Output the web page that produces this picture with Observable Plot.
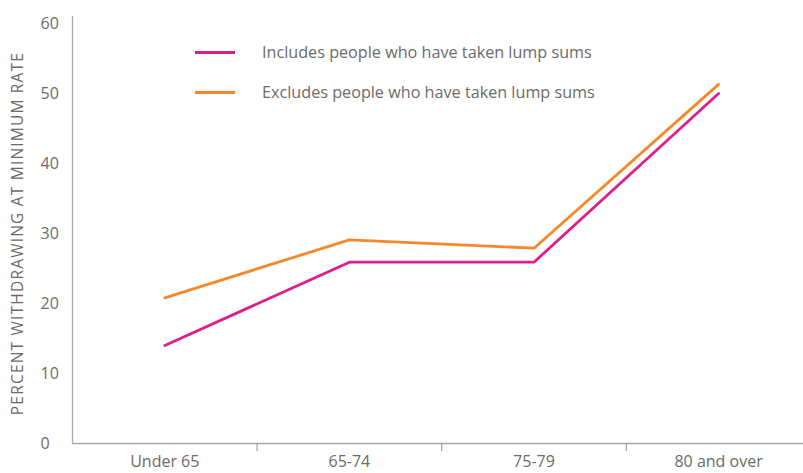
<!DOCTYPE html>
<html>
<head>
<meta charset="utf-8">
<script src="https://cdn.jsdelivr.net/npm/d3@7"></script>
<script src="https://cdn.jsdelivr.net/npm/@observablehq/plot@0.6"></script>
<style>
  html, body { margin: 0; padding: 0; background: #fff; }
  #wrap { position: relative; width: 803px; height: 473px; font-family: "Open Sans", sans-serif; }
  .legend { position: absolute; left: 0; top: 0; }
  .item { position: absolute; display: flex; align-items: center; white-space: nowrap; }
  .swatch { width: 40px; height: 3px; margin-right: 27px; }
  .label { font-size: 16.2px; color: #6b6b6b; }
  .ylab text { letter-spacing: 1.2px; }
</style>
</head>
<body>
<div id="wrap"></div>
<script>
const categories = ["Under 65", "65-74", "75-79", "80 and over"];
const includesLump = [14, 25.9, 25.9, 50];
const excludesLump = [20.8, 29.1, 27.9, 51.3];
const seriesNames = ["Includes people who have taken lump sums", "Excludes people who have taken lump sums"];
const seriesColors = ["#dc1f8c", "#f5882a"];
const yTicks = [0, 10, 20, 30, 40, 50, 60];
const yLabel = "PERCENT WITHDRAWING AT MINIMUM RATE";

const rows = [];
categories.forEach((c, i) => {
  rows.push({i, cat: c, series: seriesNames[0], value: includesLump[i]});
  rows.push({i, cat: c, series: seriesNames[1], value: excludesLump[i]});
});

const gray = "#a8a8a8";
const textGray = "#6b6b6b";

const chart = Plot.plot({
  width: 803,
  height: 473,
  marginLeft: 72,
  marginRight: 0,
  marginTop: 23,
  marginBottom: 30,
  style: {fontFamily: "Open Sans, sans-serif", fontSize: "16px", color: textGray, background: "#fff"},
  x: {type: "linear", domain: [-0.5, 3.46]},
  y: {domain: [0, 60]},
  color: {domain: seriesNames, range: seriesColors},
  marks: [
    Plot.ruleX([-0.5], {y1: 0, y2: 61, stroke: gray, strokeWidth: 1.3}),
    Plot.ruleY([0], {stroke: gray, strokeWidth: 1.3}),
    Plot.axisY({ticks: yTicks, tickSize: 0, textAnchor: "start", dx: -23, label: null, fill: textGray, fontSize: 16}),
    Plot.axisX({ticks: [0.5, 1.5, 2.5], tickSize: 8, tickFormat: () => "", label: null, stroke: gray, strokeWidth: 1.3}),
    Plot.axisX({ticks: [0, 1, 2, 3], tickSize: 0, tickPadding: 12, tickFormat: (d) => categories[d], label: null, fill: textGray, fontSize: 16}),
    Plot.line(rows, {x: "i", y: "value", z: "series", stroke: "series", strokeWidth: 2.8, strokeLinejoin: "miter"}),
    Plot.text([yLabel], {frameAnchor: "left", textAnchor: "middle", dx: -54, dy: 0, rotate: -90, text: d => d, fill: textGray, fontSize: 15.5, className: "ylab"})
  ]
});

const wrap = document.getElementById("wrap");
wrap.appendChild(chart);

const legend = document.createElement("div");
legend.className = "legend";
const tops = [52, 92];
seriesNames.forEach((name, k) => {
  const item = document.createElement("div");
  item.className = "item";
  item.style.left = "195px";
  item.style.top = (tops[k] - 12) + "px";
  item.style.height = "24px";
  const sw = document.createElement("div");
  sw.className = "swatch";
  sw.style.background = seriesColors[k];
  const lb = document.createElement("span");
  lb.className = "label";
  lb.textContent = name;
  item.appendChild(sw);
  item.appendChild(lb);
  legend.appendChild(item);
});
wrap.appendChild(legend);
</script>
</body>
</html>
